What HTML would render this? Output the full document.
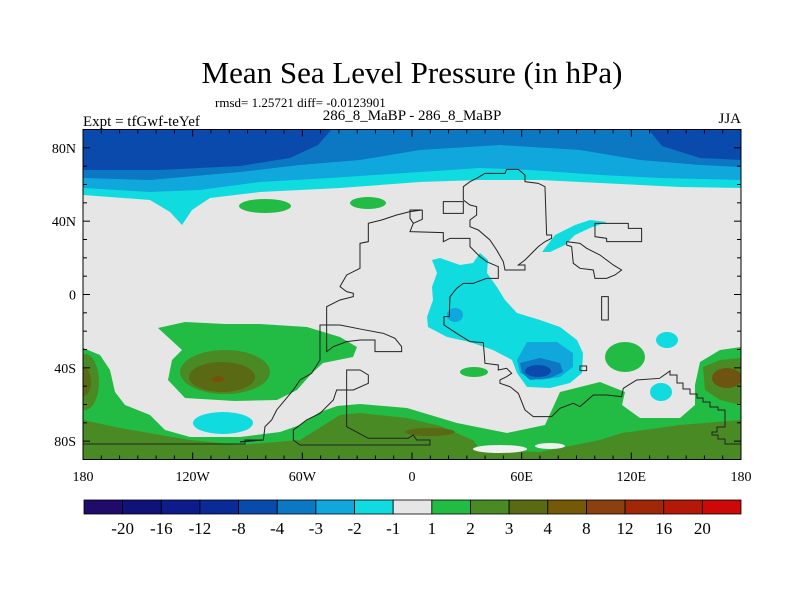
<!DOCTYPE html>
<html><head><meta charset="utf-8"><style>
body{margin:0;background:#fff;}
svg{display:block;font-family:"Liberation Serif",serif;}
</style></head><body>
<svg id="c" width="800" height="600" viewBox="0 0 800 600">
<text x="412" y="83" font-size="31" text-anchor="middle">Mean Sea Level Pressure (in hPa)</text>
<text x="215" y="107" font-size="13">rmsd= 1.25721 diff= -0.0123901</text>
<text x="83" y="126" font-size="15">Expt = tfGwf-teYef</text>
<text x="412" y="120" font-size="15" text-anchor="middle">286_8_MaBP - 286_8_MaBP</text>
<text x="741" y="123" font-size="15" text-anchor="end">JJA</text>
<defs><clipPath id="pc"><rect x="83" y="129" width="658" height="330"/></clipPath></defs>
<g clip-path="url(#pc)">
<rect x="83" y="129" width="658" height="330" fill="#e6e6e6"/>
<polygon fill="#10dce0" points="83,129 741,129 741,188 680,187 600,183 540,180 480,180 420,182 340,188 260,192 210,198 192,210 182,225 170,212 150,200 83,195"/>
<polygon fill="#10a8dc" points="83,129 741,129 741,180 660,178 600,175 530,170 480,168 420,172 330,178 260,182 200,190 150,192 83,188"/>
<polygon fill="#0c78c4" points="83,129 741,129 741,167 700,165 640,160 580,150 500,145 420,150 360,160 300,165 240,172 150,180 83,178"/>
<polygon fill="#0a4aac" points="83,129 332,129 318,145 290,158 240,166 160,170 83,170"/>
<polygon fill="#0a4aac" points="648,129 741,129 741,160 700,158 662,146"/>
<ellipse cx="265" cy="206" rx="26" ry="7" fill="#22bb44"/>
<ellipse cx="368" cy="203" rx="18" ry="6" fill="#22bb44"/>
<polygon fill="#22bb44" points="83,348 100,355 110,370 115,392 125,405 150,415 165,430 190,437 240,437 280,432 300,425 320,412 337,406 360,404 407,408 457,423 507,433 545,425 560,392 600,382 625,392 622,405 640,418 680,418 695,405 695,385 700,362 720,350 741,347 741,459 83,459"/>
<polygon fill="#22bb44" points="158,328 185,322 225,324 260,324 307,327 340,337 357,347 353,357 323,363 312,373 297,390 277,400 235,401 185,398 168,380 172,360 182,350"/>
<ellipse cx="225" cy="372" rx="45" ry="22" fill="#4a8a24"/>
<ellipse cx="222" cy="377" rx="33" ry="15" fill="#5a6a14"/>
<ellipse cx="218" cy="379" rx="6" ry="3" fill="#7a5008"/>
<ellipse cx="85" cy="382" rx="14" ry="28" fill="#4a8a24"/>
<ellipse cx="84" cy="382" rx="7" ry="14" fill="#5a6a14"/>
<polygon fill="#4a8a24" points="83,420 120,428 190,440 240,445 300,440 340,415 360,413 407,418 440,426 473,440 480,450 540,452 600,440 622,433 680,425 741,420 741,459 83,459"/>
<ellipse cx="430" cy="432" rx="25" ry="4" fill="#5a6a14"/>
<polygon fill="#4a8a24" points="703,367 720,360 741,358 741,405 720,400 705,390"/>
<ellipse cx="727" cy="378" rx="15" ry="10" fill="#6e5410"/>
<ellipse cx="625" cy="357" rx="20" ry="15" fill="#22bb44"/>
<ellipse cx="474" cy="372" rx="14" ry="5" fill="#22bb44"/>
<ellipse cx="500" cy="449" rx="27" ry="4" fill="#f0f0f0"/>
<ellipse cx="550" cy="446" rx="15" ry="3" fill="#f0f0f0"/>
<ellipse cx="223" cy="423" rx="30" ry="11" fill="#10dce0"/>
<ellipse cx="667" cy="340" rx="11" ry="8" fill="#10dce0"/>
<ellipse cx="661" cy="392" rx="11" ry="9" fill="#10dce0"/>
<polygon fill="#10dce0" points="542,252 555,235 575,225 590,220 607,222 590,228 575,235 565,245 550,252"/>
<polygon fill="#10dce0" points="432,260 440,258 460,265 473,263 480,253 488,260 487,273 497,287 505,300 517,313 540,320 560,327 577,340 583,353 582,373 570,383 550,388 527,387 517,373 512,360 493,350 470,342 447,337 428,327 427,317 433,300 432,287 437,273"/>
<ellipse cx="455" cy="315" rx="8" ry="7" fill="#10a8dc"/>
<polygon fill="#10a8dc" points="527,342 557,342 573,353 573,367 560,377 540,380 520,373 517,360"/>
<polygon fill="#0c78c4" points="520,363 540,358 560,363 563,372 550,378 530,380 522,373"/>
<ellipse cx="538" cy="371" rx="13" ry="6" fill="#0a4aac"/>
</g>
<g fill="none" stroke="#222" stroke-width="1" clip-path="url(#pc)">
<g transform="translate(240,160) scale(0.3333)" stroke-width="3">
<polyline points="547,150 510,150 510,175 520,190 510,215 610,218 610,245 630,235 690,235 690,260 720,290 740,305 775,320 775,355 740,355 700,370 670,370 650,385 630,410 628,470 612,470 612,495 650,520 690,545 730,548 735,610 775,615 775,630 800,625 815,640 800,650 780,660 780,670 810,680 835,700 855,750 880,770 935,770 960,745 1000,730 1020,740 1060,705 1100,705 1145,710 1150,685 1190,660 1260,655"/>
<polyline points="547,150 547,178 520,190"/>
<polyline points="547,150 510,155 470,165 425,180 385,190 385,245 360,250 360,325 320,345 300,380 320,395 340,400 340,410 300,420 260,440 260,575 280,560 320,545 360,540 405,540 405,575 485,575 485,560 465,535 430,520 365,508 300,495 240,495 240,600 215,640 180,660 160,690 135,720 110,750 95,780 75,800 70,840 0,845"/>
<polygon points="320,630 360,630 385,645 385,670 340,690 290,690 280,720 240,760 200,780 160,810 160,840 180,855 570,855 570,840 530,840 520,825 505,835 385,835 320,800"/>
<polygon points="670,80 690,65 710,55 735,40 795,40 800,28 835,28 855,45 855,65 895,70 915,80 920,225 935,225 935,235 915,245 895,260 880,275 855,300 835,315 855,315 855,330 820,330 795,330 790,305 770,270 750,240 715,210 690,200 690,180 710,165 710,140 690,135 670,120"/>
<polygon points="610,125 670,125 670,160 610,160"/>
<polygon points="1065,190 1165,190 1165,205 1205,205 1205,245 1100,245 1100,235 1065,230"/>
<polygon points="980,245 1020,250 1040,265 1080,285 1100,300 1120,315 1145,330 1125,345 1100,355 1065,355 1060,330 1020,325 1000,310 995,260 980,255"/>
<polygon points="1085,410 1105,410 1105,480 1085,480"/>
<polygon points="1020,618 1040,618 1040,632 1020,632"/>
</g>
<polyline points="83,444 245,444 245,440 263,440 240,442"/>
<polyline points="660,378 670,371 670,375 677,375 677,383 683,383 683,389 690,389 690,394 697,394 697,398 703,398 703,402 710,402 710,407 718,407 718,410 725,410 725,427 717,427 717,432 712,432 712,435 718,435 718,439 725,439 725,444 741,444"/>
</g>
<g id="axes"></g>
<g id="cbar"></g>
</svg>
<script>
const cbLabels = ["-20","-16","-12","-8","-4","-3","-2","-1","1","2","3","4","8","12","16","20"];
const cbColors = ["#200a6a","#10127a","#0c1c8a","#0a2a98","#0a4aac","#0c78c4","#10a8dc","#10dce0","#e6e6e6","#22bb44","#4a8a24","#5a6a14","#745a08","#8a4010","#a02808","#b41808","#cc0808"];
const lonTicks = [-180,-120,-60,0,60,120,180];
const lonLabels = ["180","120W","60W","0","60E","120E","180"];
const latTicks = [80,40,0,-40,-80];
const latLabels = ["80N","40N","0","40S","80S"];
const NS = "http://www.w3.org/2000/svg";
const X0=83, X1=741, Y0=129.5, Y1=459.5;
const xs = lon => X0 + (lon+180)/360*(X1-X0);
const ys = lat => Y0 + (90-lat)/180*(Y1-Y0);
function mk(tag, attrs, parent){const e=document.createElementNS(NS,tag);for(const k in attrs)e.setAttribute(k,attrs[k]);parent.appendChild(e);return e;}
const ax = document.getElementById('axes');
const frame = mk('rect',{x:X0,y:Y0,width:X1-X0,height:Y1-Y0,fill:'none',stroke:'#000','stroke-width':1},ax);


for(let lon=-180;lon<=180;lon+=10){
  const major = lonTicks.includes(lon); const L = major?7:4; const x=xs(lon);
  mk('line',{x1:x,y1:Y1,x2:x,y2:Y1-L,stroke:'#000'},ax);
  mk('line',{x1:x,y1:Y0,x2:x,y2:Y0+L,stroke:'#000'},ax);
}
for(let lat=-90;lat<=90;lat+=10){
  const major = latTicks.includes(lat); const L = major?7:4; const y=ys(lat);
  mk('line',{x1:X0,y1:y,x2:X0+L,y2:y,stroke:'#000'},ax);
  mk('line',{x1:X1,y1:y,x2:X1-L,y2:y,stroke:'#000'},ax);
}
lonTicks.forEach((lon,i)=>{
  const t = mk('text',{x:xs(lon),y:481,'font-size':14,'text-anchor':'middle'},ax);
  t.textContent = lonLabels[i];
  
  
});
latTicks.forEach((lat,i)=>{
  const t = mk('text',{x:76,y:ys(lat)+5,'font-size':14,'text-anchor':'end'},ax);
  t.textContent = latLabels[i];
  
  
});
const cb = document.getElementById('cbar');
const CB0=84, CB1=741, n=cbColors.length, w=(CB1-CB0)/n;
cbColors.forEach((c,i)=>{
  const r = mk('rect',{x:CB0+i*w,y:500,width:w,height:14,fill:c,stroke:'#000','stroke-width':0.8},cb);
  
  
});
cbLabels.forEach((l,i)=>{
  const t = mk('text',{x:CB0+(i+1)*w,y:534,'font-size':17,'text-anchor':'middle'},cb);
  t.textContent = l;
  
  
});
</script>
</body></html>
